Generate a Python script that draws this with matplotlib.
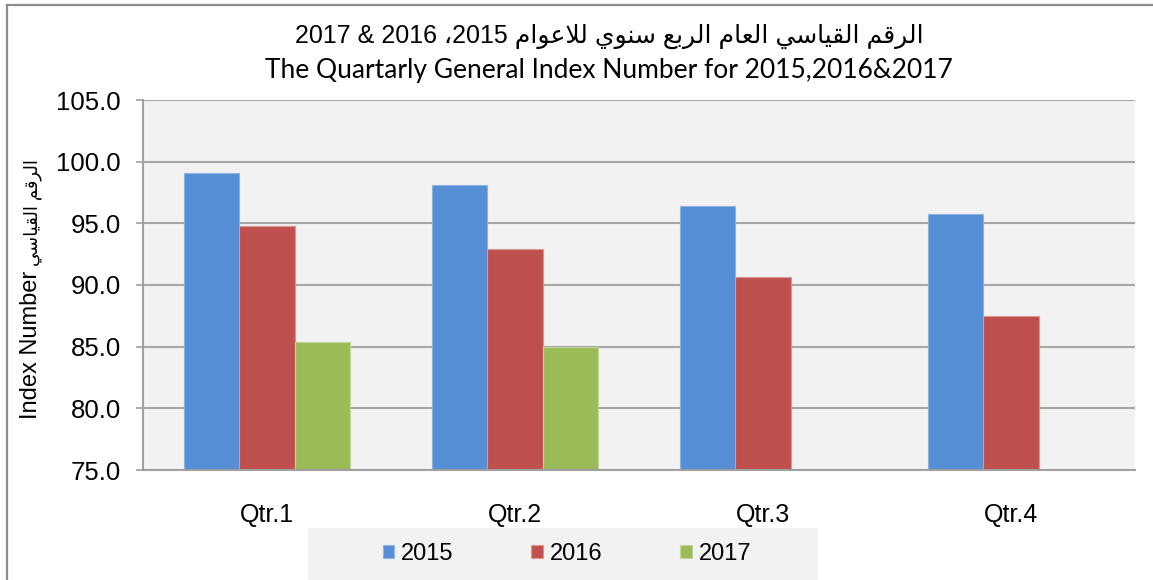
import matplotlib
matplotlib.use("Agg")
import matplotlib.pyplot as plt
from matplotlib.patches import Rectangle
from matplotlib.lines import Line2D
import numpy as np

# ---------------- data ----------------
categories = ["Qtr.1", "Qtr.2", "Qtr.3", "Qtr.4"]
series_names = ["2015", "2016", "2017"]
values_2015 = [99.1, 98.1, 96.4, 95.75]
values_2016 = [94.8, 92.9, 90.65, 87.45]
values_2017 = [85.4, 84.95, np.nan, np.nan]
y_ticks = [75.0, 80.0, 85.0, 90.0, 95.0, 100.0, 105.0]

title_ar_words = "الرقم القياسي العام الربع سنوي للاعوام"
title_ar_numbers = "2015، 2016 & 2017"
title_en = "The Quartarly General Index Number for 2015,2016&2017"
ylabel_en = "Index Number"
ylabel_ar = "الرقم القياسي"

colors = ["#558ED5", "#C0504D", "#9BBB59"]
edgecolors = ["#8DB4E2", "#D99694", "#C3D69B"]

# ---------------- minimal Arabic shaping (presentation forms) ----------------
FORMS = {
    'ا': ('\uFE8D', '\uFE8E', None, None),
    'ب': ('\uFE8F', '\uFE90', '\uFE91', '\uFE92'),
    'ر': ('\uFEAD', '\uFEAE', None, None),
    'س': ('\uFEB1', '\uFEB2', '\uFEB3', '\uFEB4'),
    'ع': ('\uFEC9', '\uFECA', '\uFECB', '\uFECC'),
    'ق': ('\uFED5', '\uFED6', '\uFED7', '\uFED8'),
    'ل': ('\uFEDD', '\uFEDE', '\uFEDF', '\uFEE0'),
    'م': ('\uFEE1', '\uFEE2', '\uFEE3', '\uFEE4'),
    'ن': ('\uFEE5', '\uFEE6', '\uFEE7', '\uFEE8'),
    'و': ('\uFEED', '\uFEEE', None, None),
    'ي': ('\uFEF1', '\uFEF2', '\uFEF3', '\uFEF4'),
    'ى': ('\uFEEF', '\uFEF0', None, None),
    'LA': ('\uFEFB', '\uFEFC', None, None),
}


def shape_word(word):
    toks = []
    i = 0
    while i < len(word):
        if word[i] == 'ل' and i + 1 < len(word) and word[i + 1] == 'ا':
            toks.append('LA')
            i += 2
        else:
            toks.append(word[i])
            i += 1
    out = []
    for k, t in enumerate(toks):
        if t not in FORMS:
            out.append(t)
            continue
        f = FORMS[t]
        prev = toks[k - 1] if k > 0 else None
        nxt = toks[k + 1] if k + 1 < len(toks) else None
        jp = prev in FORMS and FORMS[prev][2] is not None
        jn = f[2] is not None and nxt in FORMS
        if jp and jn:
            out.append(f[3])
        elif jp:
            out.append(f[1])
        elif jn:
            out.append(f[2])
        else:
            out.append(f[0])
    return "".join(out)


def rtl(text):
    shaped = " ".join(shape_word(w) for w in text.split(" "))
    return shaped[::-1]


# visual order of the RTL title line (numbers keep LTR order)
title_ar_visual = "2017 & 2016 \u060C2015 " + rtl(title_ar_words)

FAM = ["Liberation Sans", "DejaVu Sans"]

# ---------------- figure ----------------
W, H = 1153, 580
fig = plt.figure(figsize=(W / 100, H / 100), dpi=100)
fig.patch.set_facecolor("white")

ax = fig.add_axes([143 / W, 1 - 470 / H, (1135 - 143) / W, (470 - 100) / H])
ax.set_facecolor("#F2F2F2")

x = np.arange(len(categories))
bw = 0.222
all_vals = [values_2015, values_2016, values_2017]
handles = []
for i, (name, vals) in enumerate(zip(series_names, all_vals)):
    b = ax.bar(x + (i - 1) * bw, np.array(vals) - 75.0, bw, bottom=75.0,
               color=colors[i], edgecolor=edgecolors[i], linewidth=0.8,
               label=name, zorder=3)
    handles.append(b)

ax.set_xlim(-0.5, len(categories) - 0.5)
ax.set_ylim(75, 105)
ax.set_yticks(y_ticks)
ax.set_yticklabels([f"{v:.1f}" for v in y_ticks], fontfamily=FAM, fontsize=18.5)
ax.set_xticks(x)
ax.set_xticklabels(categories, fontfamily=FAM, fontsize=18)
ax.tick_params(axis="x", length=0, pad=24)
ax.tick_params(axis="y", length=5, width=1.2, color="#A0A0A0", pad=11)
ax.yaxis.grid(True, color="#A6A6A6", linewidth=1.5, zorder=1)
ax.set_axisbelow(True)
for s in ["top", "right"]:
    ax.spines[s].set_visible(False)
for s in ["left", "bottom"]:
    ax.spines[s].set_color("#A0A0A0")
    ax.spines[s].set_linewidth(1.5)
    ax.spines[s].set_zorder(4)

# y-axis label: English part and Arabic part, rotated
fig.text(37 / W, 1 - 419 / H, ylabel_en, rotation=90, rotation_mode="anchor",
         ha="left", va="baseline", fontfamily=FAM, fontsize=17)
fig.text(37 / W, 1 - 266 / H, rtl(ylabel_ar), rotation=90, rotation_mode="anchor",
         ha="left", va="baseline", fontfamily=FAM, fontsize=13)

# titles
fig.text(609 / W, 1 - 43 / H, title_ar_visual, ha="center", va="baseline",
         fontfamily=FAM, fontsize=18)
fig.text(609 / W, 1 - 78 / H, title_en, ha="center", va="baseline",
         fontfamily="Lato", fontsize=19)

# legend background and legend
fig.patches.append(Rectangle((308 / W, 0), (818 - 308) / W, (580 - 528) / H,
                             transform=fig.transFigure, facecolor="#F2F2F2",
                             edgecolor="none", zorder=0))
leg = fig.legend(handles=handles, labels=series_names, loc="center",
                 bbox_to_anchor=(567 / W, 1 - 554 / H), ncol=3, frameon=False,
                 prop={"family": FAM, "size": 17}, handlelength=0.48,
                 handleheight=0.48, handletextpad=0.3, columnspacing=3.3)

# outer border (top and left visible)
fig.add_artist(Line2D([7 / W, 7 / W], [0, 1 - 5 / H], transform=fig.transFigure,
                      color="#8C8C8C", linewidth=1.6))
fig.add_artist(Line2D([7 / W, 1], [1 - 5 / H, 1 - 5 / H], transform=fig.transFigure,
                      color="#8C8C8C", linewidth=1.6))

fig.savefig("out.png", dpi=100, facecolor="white")
